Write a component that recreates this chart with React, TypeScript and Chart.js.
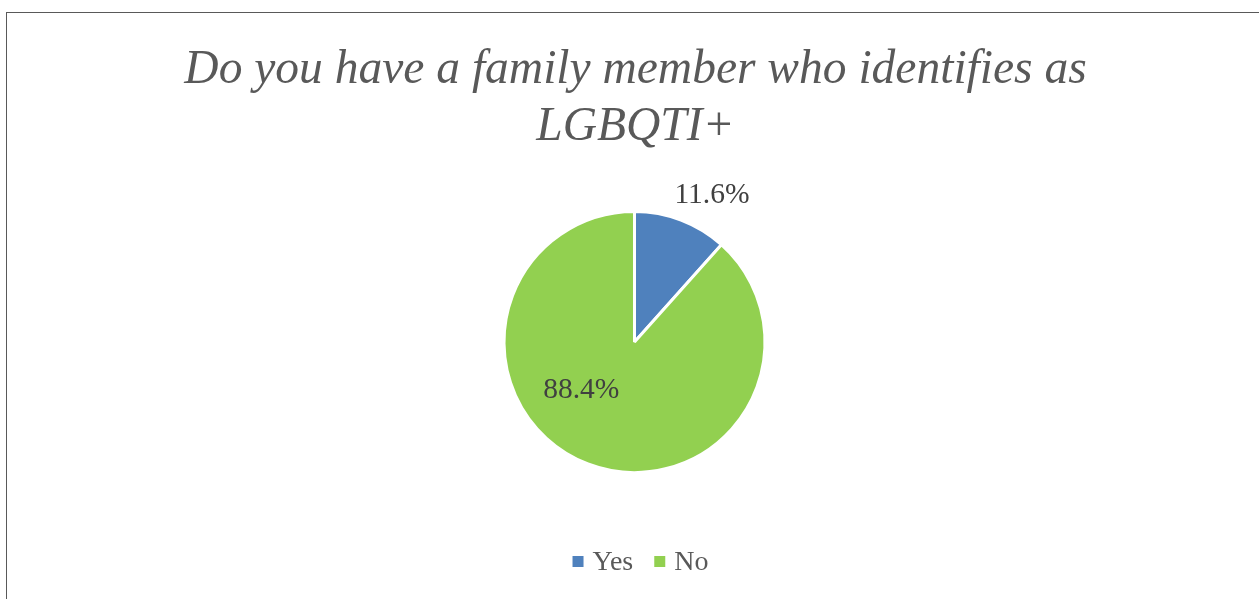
import React, { useEffect, useRef } from "react";
import { Chart, registerables } from "chart.js";
Chart.register(...registerables);

const titleLines = ["Do you have a family member who identifies as", "LGBQTI+"];
const categories = ["Yes", "No"];
const values = [11.6, 88.4];
const valueLabels = ["11.6%", "88.4%"];
const colors = ["#4F81BD", "#92D050"];

// label placement style (relative to slice geometry)
const labelRadiusFactor = [1.27, 0.55];
const labelAngleShiftDeg = [7, 26.9];

const W = 1259;
const H = 599;
const SERIF = "'Liberation Serif', 'DejaVu Serif', serif";

const decorPlugin = {
  id: "decor",
  beforeDraw(chart: any) {
    const ctx = chart.ctx;
    ctx.save();
    ctx.fillStyle = "#ffffff";
    ctx.fillRect(0, 0, W, H);
    ctx.strokeStyle = "#595959";
    ctx.lineWidth = 1;
    ctx.strokeRect(6.5, 12.5, 1400, 800);
    ctx.restore();
  },
  afterDraw(chart: any) {
    const ctx = chart.ctx;
    const area = chart.chartArea;
    const cxArea = (area.left + area.right) / 2;
    ctx.save();
    // title
    ctx.fillStyle = "#595959";
    ctx.font = `italic 47.5px ${SERIF}`;
    ctx.textAlign = "center";
    ctx.textBaseline = "alphabetic";
    titleLines.forEach((line, i) => {
      ctx.fillText(line, cxArea + 1, 83 + i * 57);
    });
    // data labels
    const meta = chart.getDatasetMeta(0);
    ctx.fillStyle = "#404040";
    ctx.font = `29.5px ${SERIF}`;
    ctx.textBaseline = "middle";
    meta.data.forEach((arc: any, i: number) => {
      const p = arc.getProps(["x", "y", "startAngle", "endAngle", "outerRadius"], true);
      const a = (p.startAngle + p.endAngle) / 2 + (labelAngleShiftDeg[i] * Math.PI) / 180;
      const d = p.outerRadius * labelRadiusFactor[i];
      ctx.fillText(valueLabels[i], p.x + Math.cos(a) * d, p.y + Math.sin(a) * d);
    });
    // legend
    ctx.font = `28px ${SERIF}`;
    ctx.textAlign = "left";
    ctx.textBaseline = "alphabetic";
    const box = 11;
    const gapBoxText = 9;
    const gapItems = 21;
    const widths = categories.map((c) => box + gapBoxText + ctx.measureText(c).width);
    const total = widths.reduce((s, w) => s + w, 0) + gapItems * (categories.length - 1);
    let x = cxArea + 6 - total / 2;
    const baseline = 570;
    categories.forEach((c, i) => {
      ctx.fillStyle = colors[i];
      ctx.fillRect(x, baseline - 14, box, box);
      ctx.fillStyle = "#595959";
      ctx.fillText(c, x + box + gapBoxText, baseline);
      x += widths[i] + gapItems;
    });
    ctx.restore();
  },
};

export default function App() {
  const ref = useRef<HTMLCanvasElement | null>(null);
  useEffect(() => {
    if (!ref.current) return;
    const chart = new Chart(ref.current, {
      type: "pie",
      data: {
        labels: categories,
        datasets: [
          {
            data: values,
            backgroundColor: colors,
            borderColor: "#ffffff",
            borderWidth: 3,
          },
        ],
      },
      options: {
        responsive: false,
        animation: false,
        layout: { padding: { top: 210, bottom: 125, left: 10, right: 0 } },
        plugins: {
          legend: { display: false },
          title: { display: false },
          tooltip: { enabled: false },
        },
      },
      plugins: [decorPlugin],
    });
    return () => chart.destroy();
  }, []);
  return (
    <div style={{ position: "absolute", left: 0, top: 0, width: W, height: H, background: "#fff" }}>
      <canvas ref={ref} width={W} height={H} />
    </div>
  );
}
